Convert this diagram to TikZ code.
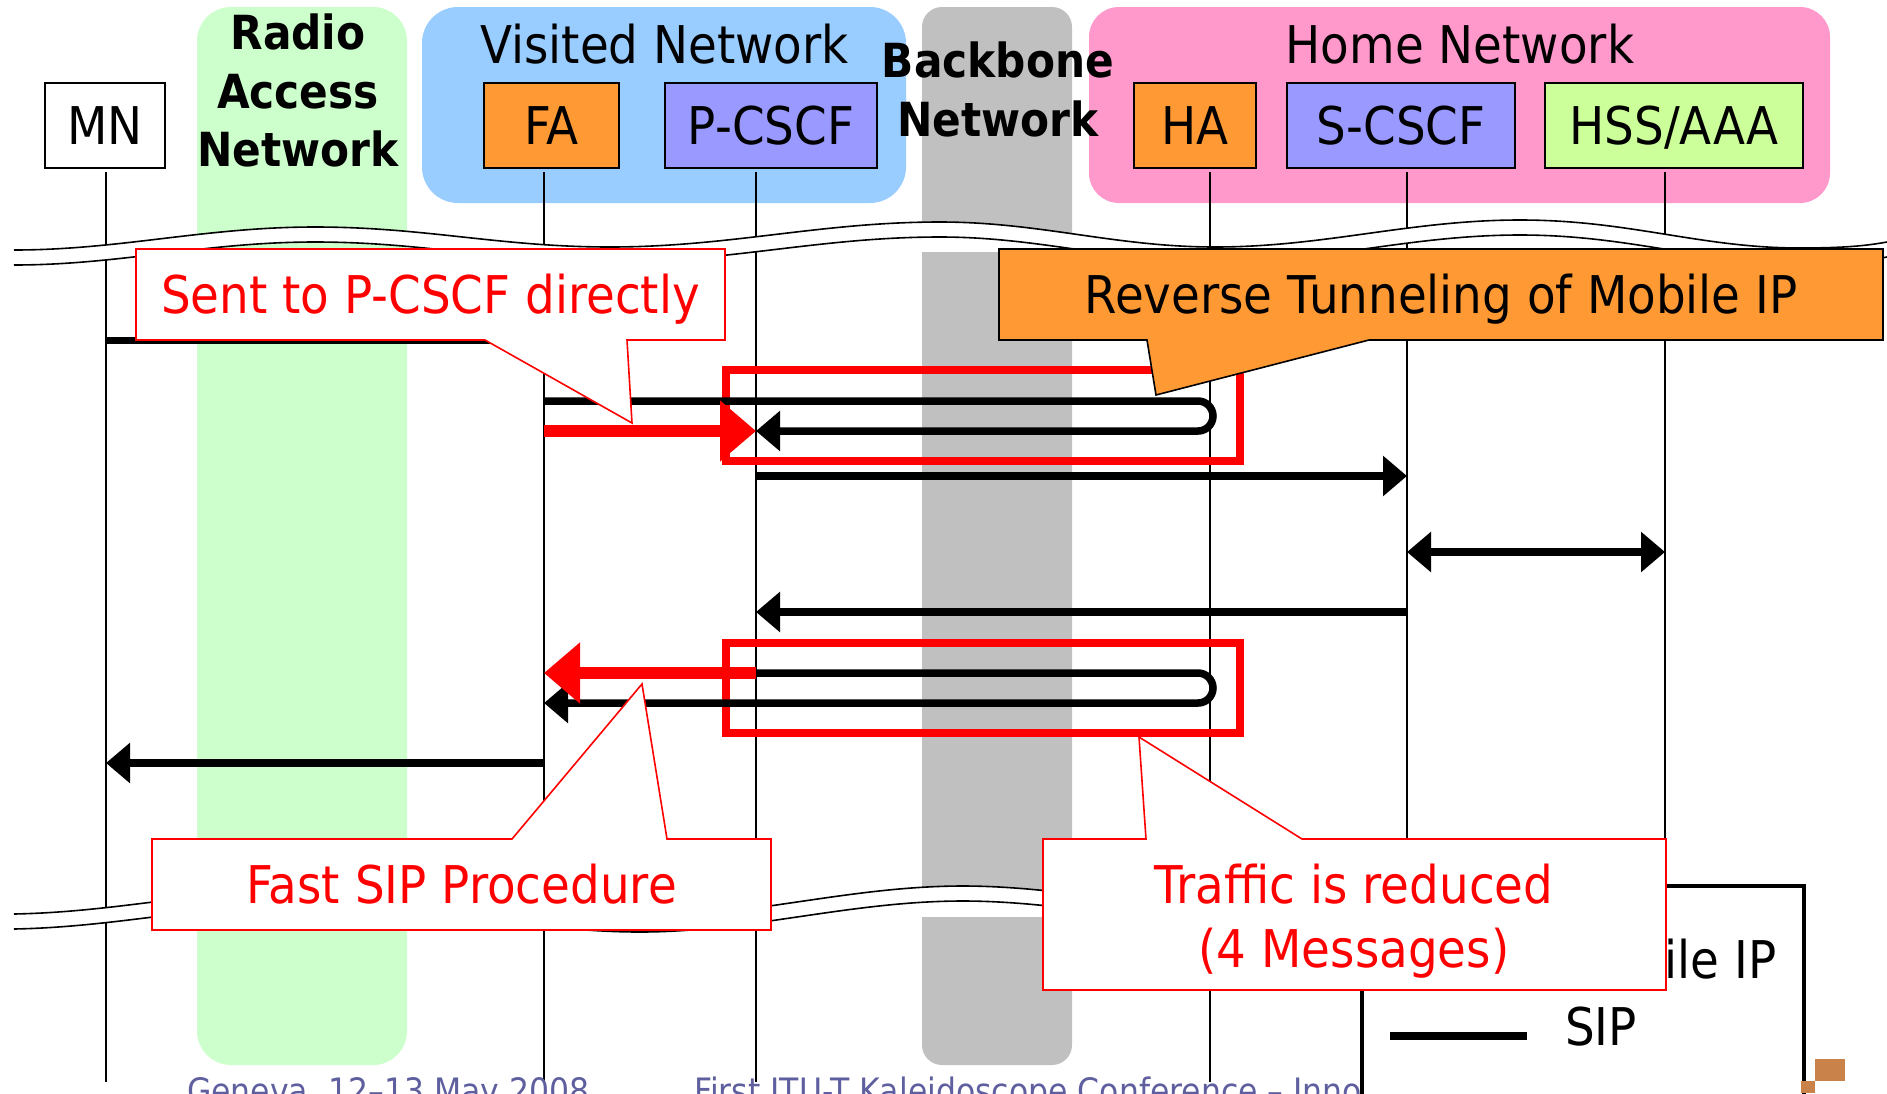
\documentclass[tikz,border=0pt]{standalone}
\usepackage{fontspec}
\setmainfont{DejaVu Sans}[FakeStretch=0.9]
\usetikzlibrary{arrows.meta}

\definecolor{bandgreen}{RGB}{204,255,204}
\definecolor{bandblue}{RGB}{153,204,255}
\definecolor{bandgrey}{RGB}{192,192,192}
\definecolor{bandpink}{RGB}{255,153,204}
\definecolor{agentorange}{RGB}{255,153,51}
\definecolor{cscfpurple}{RGB}{153,153,255}
\definecolor{hssgreen}{RGB}{204,255,153}
\definecolor{footblue}{RGB}{95,95,160}
\definecolor{markbrown}{RGB}{200,130,74}

\begin{document}
\begin{tikzpicture}[x=1pt,y=-1pt,
  entity/.style={draw=black,line width=1.8pt,inner sep=0pt,minimum height=85pt,
    font=\fontsize{52}{62}\selectfont,text height=37.9pt,text depth=0pt},
  lifeline/.style={draw=black,line width=1.3pt},
  msg/.style={draw=black,line width=7.5pt,-{Triangle[length=24pt,width=39pt]}},
  msgboth/.style={draw=black,line width=7.5pt,
    {Triangle[length=24pt,width=39pt]}-{Triangle[length=24pt,width=39pt]}},
  fastmsg/.style={draw=red,line width=12pt,-{Triangle[length=36pt,width=59pt]}},
  reduced/.style={draw=red,line width=8pt},
  calloutw/.style={draw=red,line width=1.6pt,fill=white},
  callouto/.style={draw=black,line width=1.6pt,fill=agentorange},
  bigtext/.style={font=\fontsize{52}{64}\selectfont,inner sep=0pt},
  boldtext/.style={font=\bfseries\fontsize{47}{58.5}\selectfont,inner sep=0pt,align=center},
  foot/.style={font=\fontsize{35}{42}\selectfont,text=footblue,inner sep=0pt,anchor=base west},
]
\useasboundingbox (0,0) rectangle (1887,1093);
\clip (0,0) rectangle (1887,1093);
\fill[white] (0,0) rectangle (1887,1093);

% domain bands
\fill[bandgreen,rounded corners=34pt] (197,7) rectangle (407,1065);
\fill[bandblue,rounded corners=36pt] (422,7) rectangle (906,203);
\fill[bandgrey,rounded corners=20pt] (922,7) rectangle (1072,1065);
\fill[white] (922,236) rectangle (1072,252);
\fill[white] (922,895) rectangle (1072,917);
\fill[bandpink,rounded corners=30pt] (1089,7) rectangle (1830,203);

% band titles
\node[boldtext] (ran) at (298,90.6) {Radio\\Access\\Network};
\node[boldtext] (bbn) at (998,89.4) {Backbone\\Network};
\node[bigtext,anchor=base] (vn) at (664.5,63) {Visited Network};
\node[bigtext,anchor=base] (hn) at (1460,63) {Home Network};

% entities
\node[entity,fill=white,minimum width=120pt] (mn) at (105,125.5) {MN};
\node[entity,fill=agentorange,minimum width=135pt] (fa) at (551.5,125.5) {FA};
\node[entity,fill=cscfpurple,minimum width=212pt] (pcscf) at (771,125.5) {P-CSCF};
\node[entity,fill=agentorange,minimum width=122pt] (ha) at (1195,125.5) {HA};
\node[entity,fill=cscfpurple,minimum width=228pt] (scscf) at (1401,125.5) {S-CSCF};
\node[entity,fill=hssgreen,minimum width=258pt] (hss) at (1674,125.5) {HSS/AAA};

% lifeline tops and common bottom
\coordinate (lmn) at (106,172);
\coordinate (lfa) at (544,172);
\coordinate (lpc) at (756,172);
\coordinate (lha) at (1210,172);
\coordinate (lsc) at (1407,172);
\coordinate (lhss) at (1665,172);
\coordinate (bot) at (0,1082);
\foreach \l in {lmn,lfa,lpc,lha,lsc,lhss}
  \draw[lifeline] (\l) -- (\l |- bot);

% breaks in the time axis
\foreach \dy/\lw/\col in {7.5pt/15pt/white,0pt/1.6pt/black,15pt/1.6pt/black}{
  \draw[draw=\col,line width=\lw,yshift=-\dy]
    (14,250) .. controls (120,250) and (205,227) .. (315,227)
    .. controls (425,227) and (500,247) .. (610,247)
    .. controls (730,247) and (820,222) .. (940,222)
    .. controls (1040,222) and (1115,247) .. (1215,247)
    .. controls (1325,247) and (1410,220) .. (1520,220)
    .. controls (1630,220) and (1700,248) .. (1800,248)
    .. controls (1850,248) and (1870,245) .. (1887,242);
  \draw[draw=\col,line width=\lw,yshift=-\dy]
    (14,914) .. controls (120,912) and (205,889) .. (315,889)
    .. controls (425,889) and (530,917) .. (640,917)
    .. controls (750,917) and (850,886) .. (963,886)
    .. controls (1070,886) and (1180,915) .. (1290,915)
    .. controls (1400,915) and (1450,905) .. (1500,898);
}

% footer
\node[foot] (venue) at (187,1103.5) {Geneva, 12–13 May 2008};
\node[foot] (conf) at (694,1103.5) {First ITU-T Kaleidoscope Conference – Innovations in NGN};

% message levels
\coordinate (yA) at (0,340.5);
\coordinate (yB) at (0,401);
\coordinate (yC) at (0,431);
\coordinate (yD) at (0,476);
\coordinate (yE) at (0,552);
\coordinate (yF) at (0,612);
\coordinate (yG) at (0,673);
\coordinate (yH) at (0,703);
\coordinate (yI) at (0,763);
\coordinate (turnA) at (1198,401);
\coordinate (turnB) at (1198,673);

% reduced-traffic frames
\draw[reduced] (725.5,370) rectangle (1240,460.5);
\draw[reduced] (725.5,643) rectangle (1240,732.5);

% signalling
\draw[msg] (lmn |- yA) -- (lfa |- yA);
\draw[msg] (lfa |- yB) -- (turnA) arc[start angle=90,end angle=-90,radius=15pt] -- (lpc |- yC);
\draw[msg] (lpc |- yD) -- (lsc |- yD);
\draw[msgboth] (lsc |- yE) -- (lhss |- yE);
\draw[msg] (lsc |- yF) -- (lpc |- yF);
\draw[msg] (lpc |- yG) -- (turnB) arc[start angle=90,end angle=-90,radius=15pt] -- (lfa |- yH);
\draw[msg] (lfa |- yI) -- (lmn |- yI);
\draw[fastmsg] (lfa |- yC) -- (lpc |- yC);
\draw[fastmsg] (lpc |- yG) -- (lfa |- yG);

% callouts
\draw[calloutw] (136,249) -- (725,249) -- (725,340) -- (627,340) -- (632,423)
  -- (485,340) -- (136,340) -- cycle;
\node[bigtext,text=red,anchor=base] (sent) at (430.5,313) {Sent to P-CSCF directly};

\draw[callouto] (999,249) -- (1883,249) -- (1883,340) -- (1369,340) -- (1156,395)
  -- (1147,340) -- (999,340) -- cycle;
\node[bigtext,anchor=base] (rev) at (1441,313) {Reverse Tunneling of Mobile IP};

\draw[calloutw] (152,839) -- (512,839) -- (642,684) -- (667,839) -- (771,839)
  -- (771,930) -- (152,930) -- cycle;
\node[bigtext,text=red,anchor=base] (fast) at (461.5,903) {Fast SIP Procedure};

% legend
\node[draw=black,line width=3.5pt,fill=white,minimum width=442pt,minimum height=240pt,
  anchor=north west,inner sep=0pt] (legend) at (1360,884) {};
\draw[line width=8pt] (1390,1036) -- (1527,1036);
\node[bigtext,anchor=base west] (mip) at (1566,978) {Mobile IP};
\node[bigtext,anchor=base west] (sip) at (1565,1045) {SIP};

\draw[calloutw] (1043,839) -- (1146,839) -- (1139,737) -- (1302,839) -- (1666,839)
  -- (1666,990) -- (1043,990) -- cycle;
\node[bigtext,text=red,align=center] (traffic) at (1354,920.7) {Traffic is reduced\\(4 Messages)};

% corner marks
\fill[markbrown] (1815,1059) rectangle (1845,1081);
\fill[markbrown] (1801,1081) rectangle (1815,1093);
\end{tikzpicture}
\end{document}
